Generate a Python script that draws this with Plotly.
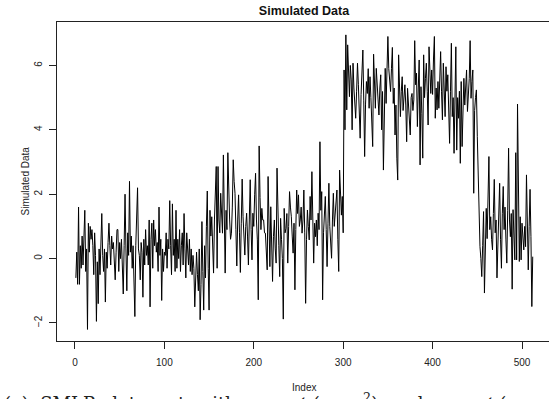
import plotly.graph_objects as go

# Simulated series (index 1..512)
values_low = [
    -0.6, 0.2, -0.8, 1.6, -0.8, 0.4, -0.3, 0.7, -0.2, 0.9,
    1.5, -0.4, 0.3, -2.2, 1.1, 0.2, 1.0, 0.6, 0.9, 0.4,
    -0.5, 0.8, 0.1, -1.95, -0.1, -1.4, 0.3, -0.5, 0.6, 1.4,
    0.1, -0.4, 0.3, -1.35, 0.2, -0.3, 0.5, 1.1, 0.4, -0.2,
    0.7, 0.3, 0.5, -0.1, -0.66, 0.2, 0.9, 0.9, -0.4, 0.5,
    0.0, 0.6, -0.3, -1.1, 0.4, 2.0, 0.3, -1.0, 0.8, 0.1,
    2.4, 0.2, 0.7, -0.3, 0.4, -0.8, -1.8, 0.4, 1.5, 2.2,
    0.3, 0.1, -0.66, 0.5, 0.2, -1.2, 0.6, -0.2, 0.9, 0.1,
    0.4, -0.2, 1.2, -1.5, 0.6, 1.1, -0.3, 1.2, 0.4, 0.9,
    0.2, 0.5, -0.4, 1.6, 0.1, 0.6, -1.3, 0.3, -0.4, 0.2,
    0.1, 0.8, -0.3, 0.6, 0.3, 1.8, 0.4, -0.5, 1.7, 0.1,
    0.6, -0.4, 1.5, -0.3, 0.6, 0.0, 0.9, -0.4, 0.4, 0.8,
    -0.2, 1.4, 0.3, -0.6, 0.8, 0.2, -0.2, 0.6, -0.4, 0.3,
    -0.5, 0.1, -0.3, -1.5, -0.4, 0.2, -0.5, -1.0, 0.3, -1.9,
    -0.8, 1.15, -0.4, -1.6, 0.4, -0.6, 1.0, 2.1, -0.3, -1.6,
]

values_mid = [
    1.5, 0.7, 1.3, 0.4, -0.45, 1.2, 2.0, 2.86, -0.3, 2.86,
    1.2, 0.8, 2.03, 1.4, 0.79, 3.22, 1.0, -0.45, 1.5, 0.9,
    3.29, 1.9, 1.2, 0.6, 0.79, 1.6, 3.07, 2.4, 2.03, 0.9,
    -0.23, 1.2, 1.98, 0.8, -0.43, 1.1, 2.47, 1.3, 0.27, 0.11,
    1.0, 1.41, 0.7, -0.2, 1.2, 2.45, 0.9, -0.04, 1.41, 1.0,
    2.0, 2.65, 1.2, 0.58, -1.28, 3.5, 1.9, 0.9, 1.56, 1.2,
    1.2, 0.8, 0.79, 0.3, -0.35, 2.55, 1.0, -0.25, 1.61, 0.5,
    -0.71, 0.68, 1.2, 0.3, -0.14, 2.81, 1.0, 0.4, -0.56, 1.25,
    0.6, 0.0, -1.88, 1.56, 0.8, 0.94, 1.4, -0.14, 1.0, 2.08,
    1.6, 1.3, 0.7, 0.17, 1.1, -0.97, 0.9, 2.13, 1.4, 1.98,
    1.0, 1.2, 1.6, 0.79, 1.2, 2.13, 0.8, -1.39, 0.6, 1.51,
    1.0, 0.58, 1.93, 1.2, 2.7, 0.9, -0.14, 1.1, 0.68, 1.2,
    0.4, 1.41, 0.9, 3.63, 1.5, 2.08, -1.28, 0.8, 1.5, 1.93,
    0.9, -0.25, 1.1, 2.34, 1.0, 0.37, 0.01, 1.2, 2.03, 1.0,
    1.41, 1.9, 2.13, 0.6, -0.4, 2.75, 1.6, 1.35, 1.93, 0.8,
]

values_high = [
    5.86, 4.0, 6.95, 4.62, 6.64, 5.8, 5.03, 6.0, 5.55, 4.0,
    6.07, 5.3, 4.82, 4.36, 5.2, 6.07, 5.4, 4.57, 3.74, 5.1,
    5.7, 6.48, 4.9, 3.17, 4.8, 5.5, 5.13, 5.9, 4.67, 5.65,
    5.0, 4.15, 3.48, 6.35, 5.2, 4.67, 5.91, 5.4, 4.82, 4.46,
    5.3, 5.71, 4.0, 5.19, 2.75, 4.5, 5.91, 4.82, 5.6, 6.9,
    5.9, 5.5, 5.19, 5.9, 6.56, 4.82, 5.3, 3.84, 4.77, 3.12,
    2.44, 6.33, 5.0, 4.41, 5.2, 5.65, 4.6, 5.13, 5.4, 4.77,
    3.63, 5.29, 4.7, 4.2, 3.84, 5.0, 5.13, 4.6, 4.93, 6.77,
    5.4, 5.76, 4.10, 5.3, 6.17, 2.91, 5.34, 4.5, 3.12, 6.33,
    5.0, 5.6, 6.07, 5.2, 4.15, 6.58, 5.6, 5.13, 5.86, 5.1,
    6.2, 6.9, 4.36, 5.3, 4.62, 5.5, 4.67, 5.6, 6.43, 5.2,
    4.31, 6.07, 5.0, 4.41, 5.96, 5.2, 5.71, 4.8, 3.58, 5.2,
    6.69, 4.41, 5.0, 3.27, 5.1, 6.58, 3.37, 5.0, 4.36, 5.2,
    2.96, 5.5, 3.48, 4.6, 5.6, 4.77, 5.2, 5.86, 4.57, 5.2,
    5.6, 6.77, 4.98, 5.5, 5.86, 2.03, 4.6, 5.0,
]

values_tail = [
    5.24, 3.8, 2.5, 1.2, 0.37, 0.0, -0.56, 0.4, 1.46, -1.07,
    0.8, 1.56, 0.62, 1.8, 3.17, 0.9, 1.3, 0.6, 0.27, 1.4,
    2.46, 0.8, 1.2, -0.6, 0.5, 1.1, 2.34, 0.6, -0.3, 1.41,
    2.24, 0.9, 1.6, 0.58, -0.14, 1.5, 3.43, 1.2, 0.68, 1.4,
    -0.95, 1.52, 0.7, -0.04, 3.29, -0.04, 4.8, 0.9, -0.09, 1.3,
    -0.04, 1.1, 0.6, 0.27, 1.0, 0.37, 2.6, 0.9, -0.35, 1.0,
    2.15, 0.68, -1.49, 0.06,
]

sim_values = values_low + values_mid + values_high + values_tail
index = list(range(1, len(sim_values) + 1))

x_ticks = [0, 100, 200, 300, 400, 500]
y_ticks = [-2, 0, 2, 4, 6]

W, H = 549, 399
L, R, T, B = 57, 0, 22, 58
FONT = "Liberation Sans, Arial, Helvetica, sans-serif"
plot_w = W - L - R
plot_h = H - T - B

fig = go.Figure()
fig.add_trace(go.Scatter(
    x=index, y=sim_values, mode="lines",
    line=dict(color="black", width=1),
    hoverinfo="skip", showlegend=False,
))

axis_common = dict(
    showgrid=False, zeroline=False, showline=True, linecolor="#222222",
    linewidth=1, ticks="outside", ticklen=7, tickwidth=1, tickcolor="#222222",
    tickfont=dict(family=FONT, size=10, color="#222222"),
)

fig.update_layout(
    width=W, height=H,
    margin=dict(l=L, r=R, t=T, b=B),
    paper_bgcolor="white", plot_bgcolor="white",
    xaxis=dict(range=[-20.1, 530.2], tickvals=x_ticks, mirror=True,
               ticklabelstandoff=5, **axis_common),
    yaxis=dict(range=[-2.56, 7.35], tickvals=y_ticks, tickangle=-90,
               ticklabelstandoff=3, **axis_common),
    title=dict(text="<b>Simulated Data</b>", x=304 / W, xanchor="center",
               y=1 - 11 / H, yanchor="middle",
               font=dict(family=FONT, size=12.5, color="#111111")),
)

fig.add_annotation(text="Index", xref="paper", yref="paper",
                   x=(304 - L) / plot_w, y=-(387 - (H - B)) / plot_h,
                   xanchor="center", yanchor="middle", showarrow=False,
                   font=dict(family=FONT, size=10, color="#222222"))
fig.add_annotation(text="Simulated Data", xref="paper", yref="paper",
                   x=-(L - 25) / plot_w, y=0.5, textangle=-90,
                   xanchor="center", yanchor="middle", showarrow=False,
                   font=dict(family=FONT, size=10, color="#222222"))
fig.add_annotation(text="(a)  SMLP  data  set  with  y<sub>t</sub> ∼ 𝒩 (μ<sub>1</sub>, σ<sup>2</sup>)  and  y<sub>t</sub> ∼ 𝒩 (μ<sub>2</sub>, σ<sup>2</sup>)",
                   xref="paper", yref="paper",
                   x=-(L - 2) / plot_w, y=-(388 - (H - B)) / plot_h,
                   xanchor="left", yanchor="top", showarrow=False,
                   font=dict(family="DejaVu Serif, Liberation Serif, serif", size=18, color="#222222"))

fig.write_html("out.html")
